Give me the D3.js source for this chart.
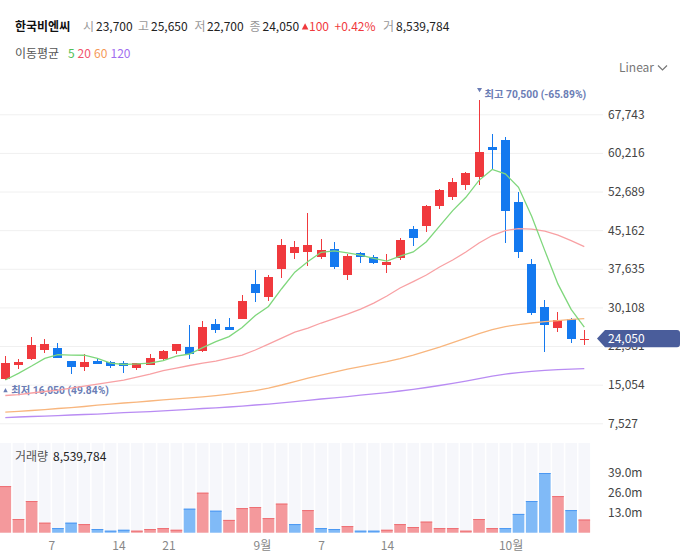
<!DOCTYPE html>
<html>
<head>
<meta charset="utf-8">
<script src="https://cdn.jsdelivr.net/npm/d3@7"></script>
<style>
  body { margin: 0; background: #fff; }
  svg { display: block; font-family: "Noto Sans CJK KR", "Noto Sans", sans-serif; }
</style>
</head>
<body>
<svg id="chart" width="683" height="558"></svg>
<script>
// 일봉 데이터 (시가, 고가, 저가, 종가)
const opens  = [16150, 18900, 20050, 21800, 22200, 19650, 18500, 19650, 19450, 19250, 18300, 18900, 20050, 21600, 22400,
                21600, 26850, 26300, 27850, 34650, 32150, 37600, 40700, 40900, 39950, 41500, 36400, 40700, 39950, 38350,
                39750, 45400, 45950, 49850, 51600, 53900, 55500, 61400, 62700, 50600, 38550, 30200, 26100, 27850, 23700];
const highs  = [20650, 20000, 24350, 23950, 23100, 19650, 20950, 20300, 19650, 19650, 19250, 21000, 21800, 22950, 26650,
                27450, 27850, 28100, 32500, 37450, 36400, 43400, 43050, 48500, 43450, 42850, 40500, 40900, 40300, 40500,
                43650, 45950, 50100, 53200, 55300, 56500, 70500, 63900, 63300, 52600, 39550, 31550, 29200, 28050, 25650];
const lows   = [16050, 18150, 19850, 21150, 20300, 17150, 17700, 19050, 18300, 17300, 17900, 18900, 19650, 21100, 20050,
                21450, 25100, 25750, 27850, 31200, 31300, 35850, 39600, 38150, 39550, 37600, 35450, 38750, 38550, 36800,
                39350, 42150, 44800, 49300, 51000, 53000, 53900, 57100, 42700, 39700, 28600, 21400, 25300, 23150, 22700];
const closes = [19250, 19500, 22800, 22950, 20300, 18550, 19450, 19050, 18750, 18700, 19250, 20300, 21650, 22950, 21000,
                26300, 25700, 25750, 31350, 32950, 36050, 42250, 41900, 42250, 41300, 38000, 40100, 39950, 38750, 38950,
                43250, 43650, 49850, 53000, 54500, 56300, 60400, 60800, 48900, 40900, 29000, 26700, 27650, 23950, 24050];
const volumes = [30300000, 8900000, 20600000, 6500000, 3000000, 6500000, 5600000, 2400000, 1300000, 1900000,
                 1300000, 2400000, 3000000, 1900000, 15600000, 26000000, 14300000, 8300000, 16000000, 16700000,
                 9500000, 18900000, 5600000, 14700000, 3000000, 2400000, 4300000, 1300000, 1300000, 1900000,
                 5600000, 3700000, 7200000, 3000000, 3000000, 1300000, 8900000, 3000000, 3000000, 12200000,
                 20600000, 38800000, 23800000, 14700000, 8539784];

// 이동평균
const ma5   = [15960, 17270, 18690, 20190, 20900, 20800, 20790, 20180, 19270, 18990, 19090, 19270, 19730, 20600, 21030,
               22290, 23440, 24430, 26180, 28520, 30300, 33750, 36980, 39050, 40850, 41120, 40740, 40320, 39650, 39150,
               40100, 40930, 42900, 45950, 48970, 51570, 54870, 57010, 56140, 53510, 47860, 41180, 34650, 29720, 26280];
const ma20  = [12940, 13130, 13430, 13720, 14010, 14400, 14790, 15180, 15570, 15960, 16540, 17130, 17810, 18300, 18790,
               19270, 19660, 20250, 20830, 21810, 22970, 24140, 25310, 26090, 27070, 27940, 28820, 29790, 30960, 32330,
               33890, 35150, 36420, 37980, 39340, 40900, 42660, 44120, 45090, 45480, 45380, 44990, 44210, 43140, 41970];
const ma60  = [9720, 9860, 10020, 10210, 10410, 10600, 10800, 11050, 11280, 11480, 11670, 11870, 12100, 12300, 12490,
               12690, 12940, 13230, 13560, 13910, 14400, 14990, 15670, 16350, 16930, 17520, 18100, 18590, 19080, 19560,
               20150, 20830, 21610, 22390, 23270, 24140, 25020, 25800, 26380, 26770, 27070, 27360, 27550, 27790, 27940];
const ma120 = [8650, 8750, 8850, 8940, 9040, 9140, 9240, 9330, 9470, 9590, 9720, 9820, 9960, 10110, 10250,
               10410, 10540, 10700, 10890, 11090, 11280, 11520, 11770, 12000, 12260, 12490, 12740, 13000, 13270, 13520,
               13820, 14150, 14500, 14890, 15320, 15760, 16250, 16740, 17130, 17420, 17650, 17850, 18000, 18100, 18200];

// 축 눈금
const priceTicks = [7527, 15054, 22581, 30108, 37635, 45162, 52689, 60216, 67743];
const volTicks = [13000000, 26000000, 39000000];
const dateLabels = ["7", "14", "21", "9월", "7", "14", "10월"];
const dateTickIndex = [3.5, 8.6, 12.4, 19.5, 24, 29, 38.4];

const stockName = "한국비엔씨";
const prevClose = 23950;
const last = closes.length - 1;

const RED = "#f0393d", BLUE = "#1479ef";
const svg = d3.select("#chart");
const fmt = d3.format(",");

// 스케일
const x = d3.scaleLinear().domain([0, last]).range([5.3, 584.3]);
const y = d3.scaleLinear().domain([7527, 67743]).range([423.3, 114.3]);
const yVol = d3.scaleLinear().domain([0, 39000000]).range([532.7, 472.7]);

// 가격 격자 + 오른쪽 축
svg.append("g")
    .attr("transform", "translate(603,0)")
    .call(d3.axisRight(y).tickValues(priceTicks).tickFormat(fmt).tickSize(-603).tickPadding(5))
    .call(g => g.select(".domain").remove())
    .call(g => g.selectAll(".tick line").attr("stroke", "#f0f0f0"))
    .call(g => g.selectAll(".tick text")
        .attr("fill", "#444").attr("font-size", 12)
        .attr("font-family", "'Noto Sans CJK KR', sans-serif"));

// 최고/최저 표시
const maxIdx = d3.maxIndex(highs), minIdx = d3.minIndex(lows);
const lastClose = closes[last];
const markColor = "#6b7db5";
const markFont = "Roboto, 'Noto Sans CJK KR', sans-serif";
function pct(v) { return v.toFixed(2) + "%"; }

const maxX = x(maxIdx), maxY = y(highs[maxIdx]);
svg.append("path")
    .attr("d", `M${maxX - 2},${maxY - 12.2}h5l-2.5,4.3z`)
    .attr("fill", markColor);
svg.append("text")
    .attr("x", maxX + 5.5).attr("y", maxY - 6.2).attr("dy", "0.35em")
    .attr("fill", markColor).attr("font-size", 10.3).attr("font-weight", "bold")
    .attr("font-family", markFont)
    .text(`최고 ${fmt(highs[maxIdx])} (${pct((lastClose / highs[maxIdx] - 1) * 100)})`);

const minX = x(minIdx), minY = y(lows[minIdx]);
svg.append("path")
    .attr("d", `M${minX - 2},${minY + 12.6}h4.4l-2.2,-4.2z`)
    .attr("fill", markColor);
svg.append("text")
    .attr("x", minX + 6).attr("y", minY + 10.4).attr("dy", "0.35em")
    .attr("fill", markColor).attr("font-size", 10.3).attr("font-weight", "bold")
    .attr("font-family", markFont)
    .text(`최저 ${fmt(lows[minIdx])} (${pct((lastClose / lows[minIdx] - 1) * 100)})`);

// 캔들
const idx = d3.range(closes.length);
const candles = svg.append("g").attr("shape-rendering", "crispEdges");
candles.selectAll(".wick")
    .data(idx).enter().append("rect")
    .attr("x", i => Math.round(x(i) - 4.5) + 4)
    .attr("width", 1)
    .attr("y", i => y(highs[i]))
    .attr("height", i => Math.max(1, y(lows[i]) - y(highs[i])))
    .attr("fill", i => closes[i] >= opens[i] ? RED : BLUE);
candles.selectAll(".body")
    .data(idx).enter().append("rect")
    .attr("x", i => Math.round(x(i) - 4.5))
    .attr("width", 9)
    .attr("y", i => y(Math.max(opens[i], closes[i])))
    .attr("height", i => Math.max(1.5, Math.abs(y(opens[i]) - y(closes[i]))))
    .attr("fill", i => closes[i] >= opens[i] ? RED : BLUE);

// 이동평균선
const line = d3.line().x((d, i) => x(i)).y(d => y(d));
[[ma120, "#b98cf3"], [ma60, "#f8b67e"], [ma20, "#f8a1a4"], [ma5, "#7fd77c"]].forEach(([s, c]) => {
    svg.append("path")
        .datum(s)
        .attr("d", line)
        .attr("fill", "none")
        .attr("stroke", c)
        .attr("stroke-width", 1.3);
});

// 현재가 태그
const tagY = y(lastClose);
svg.append("path")
    .attr("d", `M597,${tagY} L605,${tagY - 8.5} H677 Q680,${tagY - 8.5} 680,${tagY - 5.5} V${tagY + 5.5} Q680,${tagY + 8.8} 677,${tagY + 8.8} H605 Z`)
    .attr("fill", "#4a5d9b");
svg.append("text")
    .attr("x", 608).attr("y", tagY).attr("dy", "0.35em")
    .attr("fill", "#fff").attr("font-size", 12)
    .text(fmt(lastClose));

// 거래량
const vol = svg.append("g");
vol.selectAll(".col")
    .data(idx).enter().append("rect")
    .attr("x", i => x(i) - 5.8).attr("width", 11.6)
    .attr("y", 443).attr("height", yVol(0) - 443)
    .attr("fill", "#f6f7fb");
const volUp = i => closes[i] >= (i === 0 ? opens[0] : closes[i - 1]);
vol.selectAll(".bar")
    .data(idx).enter().append("rect")
    .attr("x", i => x(i) - 5.8).attr("width", 11.6)
    .attr("y", i => yVol(volumes[i]))
    .attr("height", i => yVol(0) - yVol(volumes[i]))
    .attr("fill", i => volUp(i) ? "#f4999c" : "#80baf7");
vol.selectAll(".top")
    .data(idx).enter().append("rect")
    .attr("x", i => x(i) - 5.8).attr("width", 11.6)
    .attr("y", i => yVol(volumes[i]))
    .attr("height", 1)
    .attr("fill", i => volUp(i) ? "#ee6f73" : "#4b98f2");

svg.append("g")
    .attr("transform", "translate(603,0)")
    .call(d3.axisRight(yVol).tickValues(volTicks).tickFormat(d => (d / 1e6).toFixed(1) + "m").tickSize(0).tickPadding(5))
    .call(g => g.select(".domain").remove())
    .call(g => g.selectAll(".tick text")
        .attr("fill", "#444").attr("font-size", 12)
        .attr("font-family", "'Noto Sans CJK KR', sans-serif"));

// 날짜 축
svg.append("g")
    .attr("transform", "translate(0,533)")
    .call(d3.axisBottom(x).tickValues(dateTickIndex).tickFormat((d, i) => dateLabels[i]).tickSize(0).tickPadding(8))
    .call(g => g.select(".domain").remove())
    .call(g => g.selectAll(".tick text")
        .attr("fill", "#888").attr("font-size", 12)
        .attr("font-family", "'Noto Sans CJK KR', sans-serif"));

// 상단 정보
const change = lastClose - prevClose;
const head = svg.append("g").attr("font-size", 12);
head.append("text").attr("x", 15).attr("y", 30.5).attr("font-weight", "bold").attr("fill", "#111").text(stockName);
const items = [
    ["시", opens[last], 83, 96],
    ["고", highs[last], 138, 151],
    ["저", lows[last], 194.5, 207],
    ["종", closes[last], 249.5, 262.5]
];
items.forEach(([k, v, kx, vx]) => {
    head.append("text").attr("x", kx).attr("y", 30.5).attr("fill", "#999").text(k);
    head.append("text").attr("x", vx).attr("y", 30.5).attr("fill", "#222").text(fmt(v));
});
head.append("path").attr("d", "M301.8,29.5 h6.6 l-3.3,-6.2 z").attr("fill", RED);
head.append("text").attr("x", 309).attr("y", 30.5).attr("fill", RED).text(fmt(change));
head.append("text").attr("x", 334.5).attr("y", 30.5).attr("fill", RED)
    .text("+" + (change / prevClose * 100).toFixed(2) + "%");
head.append("text").attr("x", 383).attr("y", 30.5).attr("fill", "#999").text("거");
head.append("text").attr("x", 396).attr("y", 30.5).attr("fill", "#222").text(fmt(volumes[last]));

const maLegend = [["5", "#52bf55", 68], ["20", "#f2536b", 77.5], ["60", "#f59a58", 94], ["120", "#a26ef0", 110.5]];
head.append("text").attr("x", 15).attr("y", 57.5).attr("fill", "#555").text("이동평균");
maLegend.forEach(([t, c, lx]) => {
    head.append("text").attr("x", lx).attr("y", 57.5).attr("fill", c).text(t);
});

// Linear 선택
svg.append("text").attr("x", 619).attr("y", 71.5).attr("font-size", 12).attr("fill", "#777").text("Linear");
svg.append("path").attr("d", "M658,65.5 l4.5,4.5 l4.5,-4.5").attr("fill", "none").attr("stroke", "#777").attr("stroke-width", 1.2);

// 거래량 라벨
svg.append("text").attr("x", 15).attr("y", 461).attr("font-size", 12).attr("fill", "#555").text("거래량");
svg.append("text").attr("x", 53).attr("y", 461).attr("font-size", 12).attr("fill", "#222").text(fmt(volumes[last]));
</script>
</body>
</html>
